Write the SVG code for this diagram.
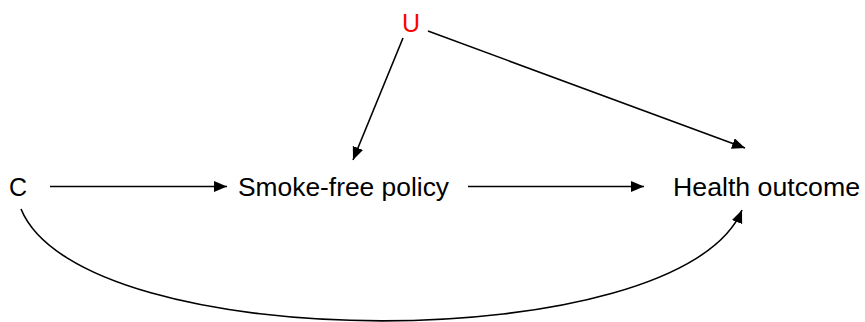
<svg xmlns="http://www.w3.org/2000/svg" width="865" height="322" viewBox="0 0 865 322">
<style>
.lbl{font-family:"Liberation Sans",Arial,sans-serif;font-size:25px;fill:#000}
.red{fill:#FF0000}
.edge{stroke:#000;stroke-width:1.6;fill:none}
</style>
<defs>
<marker id="ah" markerUnits="userSpaceOnUse" markerWidth="14" markerHeight="12" refX="13" refY="5.5" orient="auto">
<path d="M0,0 L13,5.5 L0,11 z" fill="#000"/>
</marker>
</defs>
<rect width="865" height="322" fill="#fff"/>
<g id="connectors">
<line class="edge" x1="50" y1="186.5" x2="227" y2="186.5" marker-end="url(#ah)"/>
<line class="edge" x1="468" y1="186.5" x2="644" y2="186.5" marker-end="url(#ah)"/>
<line class="edge" x1="403" y1="38" x2="353" y2="160" marker-end="url(#ah)"/>
<line class="edge" x1="428" y1="31" x2="745" y2="148" marker-end="url(#ah)"/>
<path class="edge" d="M21,209 C82,358 681,358 742,210" marker-end="url(#ah)"/>
</g>
<g id="node-C"><text class="lbl" x="9" y="196">C</text></g>
<g id="node-policy"><text class="lbl" x="238" y="196" textLength="211" lengthAdjust="spacingAndGlyphs">Smoke-free policy</text></g>
<g id="node-health"><text class="lbl" x="673" y="196" textLength="187" lengthAdjust="spacingAndGlyphs">Health outcome</text></g>
<g id="node-U"><text class="lbl red" x="402" y="32">U</text></g>
</svg>
